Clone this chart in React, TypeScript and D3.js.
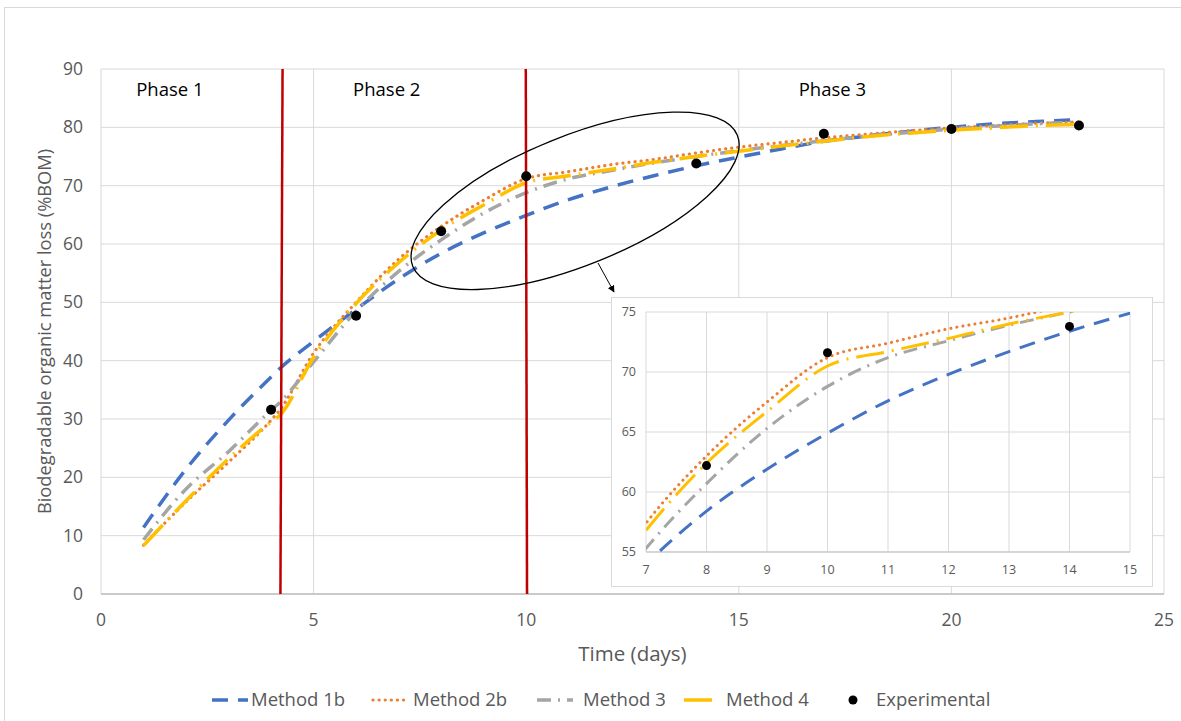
import React from "react";
import * as d3 from "d3";

// ---------- data ----------
const DAYS = [1, 2, 3, 4, 4.2, 5, 6, 7, 8, 9, 10, 11, 12, 13, 14, 15, 16, 17, 18, 19, 20, 21, 22, 23];
const METHOD_1B = [11.4, 21.4, 29.8, 37.2, 38.6, 43.3, 48.8, 54.0, 58.4, 61.9, 64.9, 67.6, 69.8, 71.7, 73.4, 74.9, 76.3, 77.6, 78.5, 79.3, 80.0, 80.6, 81.0, 81.3];
const METHOD_2B = [8.4, 15.8, 22.6, 29.8, 31.5, 41.3, 50.0, 57.4, 63.0, 67.5, 71.2, 72.4, 73.6, 74.5, 75.6, 76.6, 77.4, 78.2, 78.8, 79.4, 79.9, 80.3, 80.7, 80.9];
const METHOD_3 = [9.3, 18.0, 24.4, 31.5, 32.8, 39.8, 48.5, 55.3, 60.7, 65.3, 68.8, 71.2, 72.6, 73.9, 75.0, 76.0, 76.9, 77.7, 78.5, 79.1, 79.7, 80.2, 80.6, 80.9];
const METHOD_4 = [8.3, 16.0, 23.2, 29.5, 30.6, 40.6, 49.8, 56.8, 62.4, 66.7, 70.5, 71.7, 72.8, 74.0, 75.0, 75.9, 76.8, 77.6, 78.4, 79.0, 79.5, 79.9, 80.3, 80.5];
const EXP_DAYS = [4, 6, 8, 10, 14, 17, 20, 23];
const EXP_VALUES = [31.6, 47.7, 62.2, 71.6, 73.8, 78.9, 79.7, 80.3];

const X_TICKS = [0, 5, 10, 15, 20, 25];
const Y_TICKS = [0, 10, 20, 30, 40, 50, 60, 70, 80, 90];
const INSET_X_TICKS = [7, 8, 9, 10, 11, 12, 13, 14, 15];
const INSET_Y_TICKS = [55, 60, 65, 70, 75];

const PHASE_LABELS = ["Phase 1", "Phase 2", "Phase 3"];
const PHASE_LABEL_DAYS = [1.62, 6.72, 17.2];
const PHASE_BOUNDARY_BOTTOM = [4.22, 10.02];
const PHASE_BOUNDARY_TOP = [4.27, 9.99];

const SERIES_NAMES = ["Method 1b", "Method 2b", "Method 3", "Method 4", "Experimental"];
const X_TITLE = "Time (days)";
const Y_TITLE = "Biodegradable organic matter loss (%BOM)";

// ---------- styles ----------
const FONT = "'Open Sans', 'Noto Sans', sans-serif";
const STYLES = [
  { color: "#4472C4", width: 3.5, dash: "16 10", cap: "butt" },
  { color: "#ED7D31", width: 3.2, dash: "0.1 6", cap: "round" },
  { color: "#A5A5A5", width: 3.5, dash: "14 7 2 7", cap: "butt" },
  { color: "#FFC000", width: 3.5, dash: "28 8 2 8", cap: "butt" },
];
const SERIES = [METHOD_1B, METHOD_2B, METHOD_3, METHOD_4];

export default function App() {
  const W = 1181, H = 721;
  const x = d3.scaleLinear().domain([0, 25]).range([101, 1164]);
  const y = d3.scaleLinear().domain([0, 90]).range([594, 69]);
  const ix = d3.scaleLinear().domain([7, 15]).range([646, 1130]);
  const iy = d3.scaleLinear().domain([55, 75]).range([552, 312]);

  const mainLine = (vals: number[]) =>
    d3.line<number>().x((_, i) => x(DAYS[i])).y((d) => y(d)).curve(d3.curveMonotoneX)(vals) || "";
  const insetLine = (vals: number[]) =>
    d3.line<number>().x((_, i) => ix(DAYS[i])).y((d) => iy(d)).curve(d3.curveMonotoneX)(vals) || "";

  // ellipse annotation (center in data units, radii in px)
  const ellCx = x(11.15), ellCy = y(67.4);

  const legendItems = [
    { sw: 212, tx: 251 },
    { sw: 373, tx: 413 },
    { sw: 537, tx: 583 },
    { sw: 684, tx: 726 },
    { sw: 853, tx: 876 },
  ];
  const legendY = 700;

  return (
    <svg width={W} height={H} style={{ position: "absolute", left: 0, top: 0, background: "#fff" }} fontFamily={FONT}>
      <defs>
        <clipPath id="insetClip">
          <rect x={ix(7)} y={iy(75)} width={ix(15) - ix(7)} height={iy(55) - iy(75)} />
        </clipPath>
        <marker id="arrow" viewBox="0 0 10 10" refX="9" refY="5" markerWidth="7" markerHeight="7" orient="auto">
          <path d="M0,0 L10,5 L0,10 z" fill="#000" />
        </marker>
      </defs>
      <rect x={0} y={0} width={W} height={H} fill="#fff" />
      <rect x={4.5} y={7.5} width={1200} height={800} fill="none" stroke="#d9d9d9" strokeWidth={1} />

      {/* gridlines */}
      {Y_TICKS.map((t) => (
        <line key={"hy" + t} x1={x(0)} x2={x(25)} y1={y(t)} y2={y(t)} stroke="#d9d9d9" strokeWidth={1} />
      ))}
      {X_TICKS.map((t) => (
        <line key={"vx" + t} x1={x(t)} x2={x(t)} y1={y(0)} y2={y(90)} stroke="#d9d9d9" strokeWidth={1} />
      ))}
      <line x1={x(0)} x2={x(25)} y1={y(0)} y2={y(0)} stroke="#bfbfbf" strokeWidth={1.5} />

      {/* tick labels */}
      {Y_TICKS.map((t) => (
        <text key={"yl" + t} x={83} y={y(t)} dy="0.35em" textAnchor="end" fontSize={17.5} fill="#595959">{t}</text>
      ))}
      {X_TICKS.map((t) => (
        <text key={"xl" + t} x={x(t)} y={626} textAnchor="middle" fontSize={17.5} fill="#595959">{t}</text>
      ))}
      <text x={(x(0) + x(25)) / 2} y={661} textAnchor="middle" fontSize={20.5} fill="#595959">{X_TITLE}</text>
      <text transform={`translate(51,${(y(0) + y(90)) / 2}) rotate(-90)`} textAnchor="middle" fontSize={18.3} fill="#595959">{Y_TITLE}</text>

      {/* phase labels */}
      {PHASE_LABELS.map((p, i) => (
        <text key={p} x={x(PHASE_LABEL_DAYS[i])} y={y(86.4)} dy="0.35em" textAnchor="middle" fontSize={18.5} fill="#000">{p}</text>
      ))}

      {/* series */}
      {SERIES.map((vals, i) => (
        <path key={"s" + i} d={mainLine(vals)} fill="none" stroke={STYLES[i].color} strokeWidth={STYLES[i].width}
          strokeDasharray={STYLES[i].dash} strokeLinecap={STYLES[i].cap as any} />
      ))}

      {/* phase boundaries */}
      {PHASE_BOUNDARY_BOTTOM.map((b, i) => (
        <line key={"pb" + i} x1={x(b)} x2={x(PHASE_BOUNDARY_TOP[i])} y1={y(0)} y2={y(90)} stroke="#C00000" strokeWidth={2.5} />
      ))}

      {/* experimental points */}
      {EXP_DAYS.map((d, i) => (
        <circle key={"e" + i} cx={x(d)} cy={y(EXP_VALUES[i])} r={5} fill="#000" />
      ))}

      {/* ellipse + arrow */}
      <ellipse cx={ellCx} cy={ellCy} rx={175} ry={64.5} transform={`rotate(-22 ${ellCx} ${ellCy})`} fill="none" stroke="#000" strokeWidth={1.3} />
      <line x1={598} y1={263} x2={614} y2={292} stroke="#000" strokeWidth={1} markerEnd="url(#arrow)" />

      {/* inset */}
      <rect x={611.5} y={297.5} width={541} height={289} fill="#fff" stroke="#d9d9d9" strokeWidth={1} />
      {INSET_Y_TICKS.map((t) => (
        <line key={"ihy" + t} x1={ix(7)} x2={ix(15)} y1={iy(t)} y2={iy(t)} stroke="#d9d9d9" strokeWidth={1} />
      ))}
      {INSET_X_TICKS.map((t) => (
        <line key={"ivx" + t} x1={ix(t)} x2={ix(t)} y1={iy(55)} y2={iy(75)} stroke="#d9d9d9" strokeWidth={1} />
      ))}
      <line x1={ix(7)} x2={ix(15)} y1={iy(55)} y2={iy(55)} stroke="#bfbfbf" strokeWidth={1} />
      {INSET_Y_TICKS.map((t) => (
        <text key={"iyl" + t} x={636} y={iy(t)} dy="0.35em" textAnchor="end" fontSize={12.5} fill="#595959">{t}</text>
      ))}
      {INSET_X_TICKS.map((t) => (
        <text key={"ixl" + t} x={ix(t)} y={574} textAnchor="middle" fontSize={12.5} fill="#595959">{t}</text>
      ))}
      <g clipPath="url(#insetClip)">
        {SERIES.map((vals, i) => (
          <path key={"is" + i} d={insetLine(vals)} fill="none" stroke={STYLES[i].color} strokeWidth={3}
            strokeDasharray={STYLES[i].dash} strokeLinecap={STYLES[i].cap as any} />
        ))}
      </g>
      {EXP_DAYS.map((d, i) =>
        d >= 7 && d <= 15 ? <circle key={"ie" + i} cx={ix(d)} cy={iy(EXP_VALUES[i])} r={4.5} fill="#000" /> : null
      )}

      {/* legend */}
      {legendItems.map((it, i) => (
        <g key={"lg" + i}>
          {i < 4 ? (
            <line x1={it.sw} x2={it.sw + 36} y1={legendY} y2={legendY} stroke={STYLES[i].color} strokeWidth={STYLES[i].width}
              strokeDasharray={STYLES[i].dash} strokeLinecap={STYLES[i].cap as any} />
          ) : (
            <circle cx={it.sw} cy={legendY} r={4.5} fill="#000" />
          )}
          <text x={it.tx} y={legendY} dy="0.35em" fontSize={18.5} fill="#595959">{SERIES_NAMES[i]}</text>
        </g>
      ))}
    </svg>
  );
}
